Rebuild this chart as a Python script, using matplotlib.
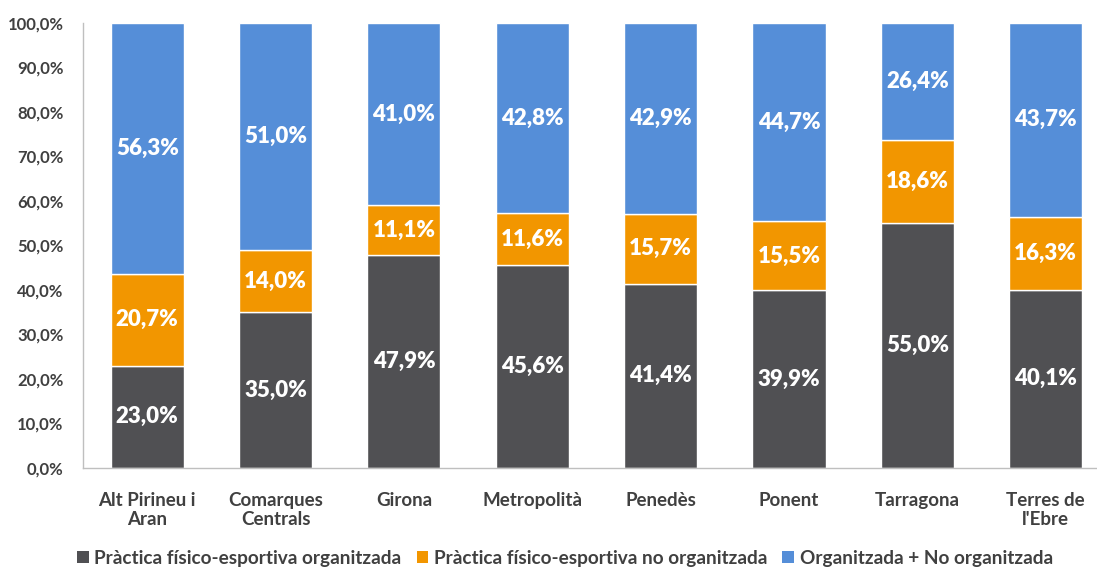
import numpy as np
import matplotlib.pyplot as plt
from matplotlib.patches import Patch
from matplotlib.ticker import FuncFormatter

plt.rcParams['font.family'] = ['Lato', 'DejaVu Sans']
plt.rcParams['font.weight'] = 'bold'

# data
regions = ['Alt Pirineu i\nAran', 'Comarques\nCentrals', 'Girona', 'Metropolità',
           'Penedès', 'Ponent', 'Tarragona', "Terres de\nl'Ebre"]
organitzada = [23.0, 35.0, 47.9, 45.6, 41.4, 39.9, 55.0, 40.1]
no_organitzada = [20.7, 14.0, 11.1, 11.6, 15.7, 15.5, 18.6, 16.3]
ambdues = [56.3, 51.0, 41.0, 42.8, 42.9, 44.7, 26.4, 43.7]
series_names = ['Pràctica físico-esportiva organitzada',
                'Pràctica físico-esportiva no organitzada',
                'Organitzada + No organitzada']
colors = ['#505053', '#F29600', '#558ED8']

fig = plt.figure(figsize=(10.97, 5.70), dpi=100)
ax = fig.add_axes([0.0757, 0.179, 0.9243, 0.7807])

x = np.arange(len(regions))
bottom = np.zeros(len(regions))
for vals, col in zip([organitzada, no_organitzada, ambdues], colors):
    vals = np.array(vals)
    ax.bar(x, vals, 0.57, bottom=bottom, color=col, edgecolor='white', linewidth=1)
    for xi, b, v in zip(x, bottom, vals):
        ax.text(xi, b + v / 2, f'{v:.1f}%'.replace('.', ','), ha='center', va='center',
                color='white', fontsize=16, fontweight='heavy')
    bottom += vals

ax.set_xlim(-0.5, 7.4)
ax.set_ylim(0, 100)
ax.set_yticks(np.arange(0, 101, 10))
ax.yaxis.set_major_formatter(FuncFormatter(lambda v, p: f'{v:.1f}%'.replace('.', ',')))
ax.set_xticks(x)
ax.set_xticklabels(regions)
ax.tick_params(axis='y', length=0, labelsize=12, labelcolor='#404040', pad=14)
ax.tick_params(axis='x', length=0, labelsize=13.5, labelcolor='#404040', pad=17)

for s in ['top', 'right']:
    ax.spines[s].set_visible(False)
for s in ['left', 'bottom']:
    ax.spines[s].set_color('#BFBFBF')
    ax.spines[s].set_linewidth(1)

handles = [Patch(facecolor=c) for c in colors]
fig.legend(handles, series_names, loc='center', bbox_to_anchor=(0.515, 0.021),
           ncol=3, frameon=False, fontsize=13.7, handlelength=0.6, handleheight=0.6,
           handletextpad=0.3, columnspacing=0.8, labelcolor='#404040')

fig.savefig('out.png', dpi=100)
